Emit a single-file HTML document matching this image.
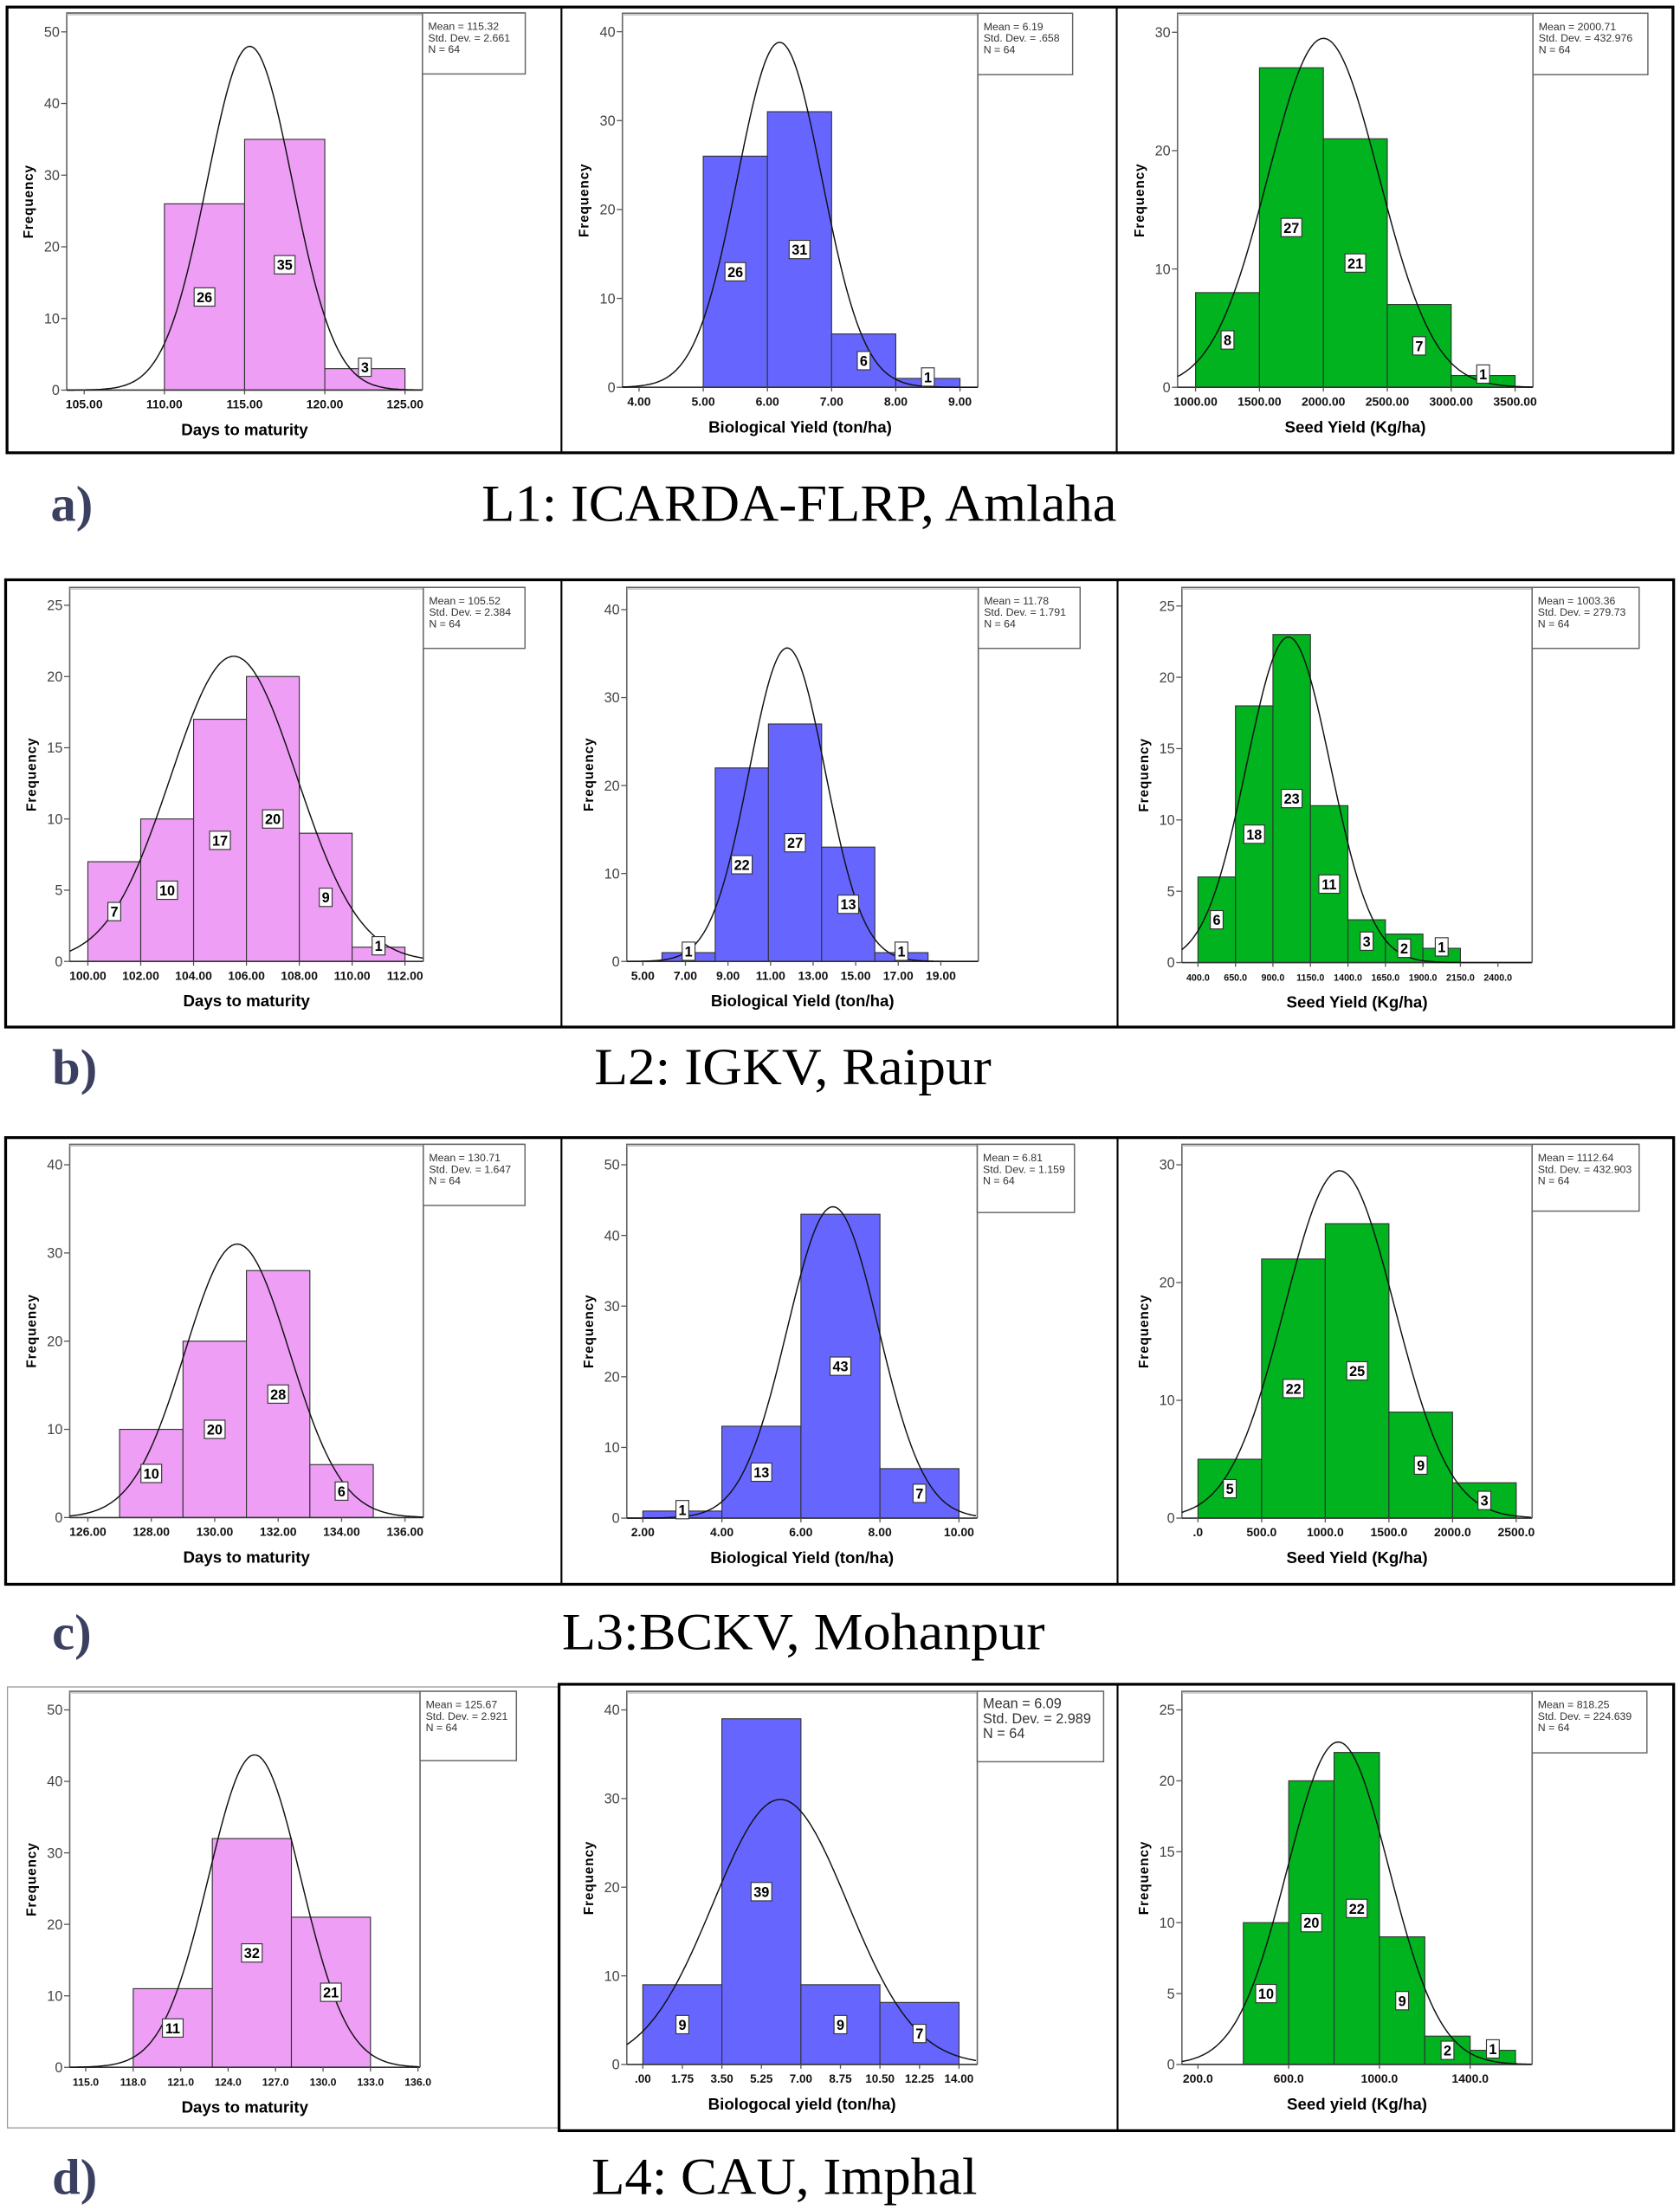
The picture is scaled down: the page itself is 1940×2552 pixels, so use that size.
<!DOCTYPE html>
<html><head><meta charset="utf-8"><style>
html,body{margin:0;padding:0;background:#fff;}
svg{display:block;}
</style></head><body>
<svg id="fig" xmlns="http://www.w3.org/2000/svg" width="1940" height="2552" viewBox="0 0 1193 1569.3">
<rect x="0" y="0" width="1193" height="1570" fill="#fff"/>
<g fill="none" stroke="#000">
<rect x="5" y="5" width="1183" height="316.5" stroke-width="2"/>
<line x1="398.7" y1="5" x2="398.7" y2="321.5" stroke-width="1.3"/>
<line x1="793" y1="5" x2="793" y2="321.5" stroke-width="1.3"/>
<rect x="4" y="411.7" width="1184.5" height="317.6" stroke-width="2"/>
<line x1="398.7" y1="411.7" x2="398.7" y2="729.3" stroke-width="1.3"/>
<line x1="793.6" y1="411.7" x2="793.6" y2="729.3" stroke-width="1.3"/>
<rect x="4" y="807.8" width="1184.5" height="317.2" stroke-width="2"/>
<line x1="398.7" y1="807.8" x2="398.7" y2="1125" stroke-width="1.3"/>
<line x1="793.6" y1="807.8" x2="793.6" y2="1125" stroke-width="1.3"/>
<rect x="5.3" y="1197.9" width="391.7" height="313.1" stroke="#999" stroke-width="0.8"/>
<rect x="397" y="1196" width="791.5" height="317" stroke-width="2"/>
<line x1="793.6" y1="1196" x2="793.6" y2="1513" stroke-width="1.3"/>
</g>
<g font-family="Liberation Serif, serif">
<text x="36" y="370" font-size="36" font-weight="bold" fill="#3c4060">a)</text>
<text x="342" y="370" font-size="37" textLength="451" lengthAdjust="spacingAndGlyphs" fill="#000">L1: ICARDA-FLRP, Amlaha</text>
<text x="37" y="770" font-size="36" font-weight="bold" fill="#3c4060">b)</text>
<text x="422" y="770" font-size="37" textLength="282" lengthAdjust="spacingAndGlyphs" fill="#000">L2: IGKV, Raipur</text>
<text x="37" y="1171" font-size="36" font-weight="bold" fill="#3c4060">c)</text>
<text x="399" y="1171" font-size="37" textLength="343" lengthAdjust="spacingAndGlyphs" fill="#000">L3:BCKV, Mohanpur</text>
<text x="37" y="1558" font-size="36" font-weight="bold" fill="#3c4060">d)</text>
<text x="420" y="1558" font-size="37" textLength="274" lengthAdjust="spacingAndGlyphs" fill="#000">L4: CAU, Imphal</text>
</g>
</svg>
<script>
// ---- data (one entry per histogram: a1,a2,a3,b1,b2,b3,c1,c2,c3,d1,d2,d3) ----
const chartIds = ["a1","a2","a3","b1","b2","b3","c1","c2","c3","d1","d2","d3"];
const binStarts = [110, 5, 1000, 100, 5.9, 400, 127, 2, 0, 118, 0, 400];
const binWidths = [5, 1, 500, 2, 2.5, 250, 2, 2, 500, 5, 3.5, 200];
const binCounts = [
  [26,35,3],
  [26,31,6,1],
  [8,27,21,7,1],
  [7,10,17,20,9,1],
  [1,22,27,13,1],
  [6,18,23,11,3,2,1],
  [10,20,28,6],
  [1,13,43,7],
  [5,22,25,9,3],
  [11,32,21],
  [9,39,9,7],
  [10,20,22,9,2,1]
];
const means = [115.32, 6.19, 2000.71, 105.52, 11.78, 1003.36, 130.71, 6.81, 1112.64, 125.67, 6.09, 818.25];
const stdDevs = [2.661, 0.658, 432.976, 2.384, 1.791, 279.73, 1.647, 1.159, 432.903, 2.921, 2.989, 224.639];
const sampleSizes = [64,64,64,64,64,64,64,64,64,64,64,64];
const meanLabels = ["115.32","6.19","2000.71","105.52","11.78","1003.36","130.71","6.81","1112.64","125.67","6.09","818.25"];
const sdLabels = ["2.661",".658","432.976","2.384","1.791","279.73","1.647","1.159","432.903","2.921","2.989","224.639"];
const xTickValues = [
  [105,110,115,120,125],
  [4,5,6,7,8,9],
  [1000,1500,2000,2500,3000,3500],
  [100,102,104,106,108,110,112],
  [5,7,9,11,13,15,17,19],
  [400,650,900,1150,1400,1650,1900,2150,2400],
  [126,128,130,132,134,136],
  [2,4,6,8,10],
  [0,500,1000,1500,2000,2500],
  [115,118,121,124,127,130,133,136],
  [0,1.75,3.5,5.25,7,8.75,10.5,12.25,14],
  [200,600,1000,1400]
];
const xTickLabels = [
  ["105.00","110.00","115.00","120.00","125.00"],
  ["4.00","5.00","6.00","7.00","8.00","9.00"],
  ["1000.00","1500.00","2000.00","2500.00","3000.00","3500.00"],
  ["100.00","102.00","104.00","106.00","108.00","110.00","112.00"],
  ["5.00","7.00","9.00","11.00","13.00","15.00","17.00","19.00"],
  ["400.0","650.0","900.0","1150.0","1400.0","1650.0","1900.0","2150.0","2400.0"],
  ["126.00","128.00","130.00","132.00","134.00","136.00"],
  ["2.00","4.00","6.00","8.00","10.00"],
  [".0","500.0","1000.0","1500.0","2000.0","2500.0"],
  ["115.0","118.0","121.0","124.0","127.0","130.0","133.0","136.0"],
  [".00","1.75","3.50","5.25","7.00","8.75","10.50","12.25","14.00"],
  ["200.0","600.0","1000.0","1400.0"]
];
const yTickValues = [
  [0,10,20,30,40,50],
  [0,10,20,30,40],
  [0,10,20,30],
  [0,5,10,15,20,25],
  [0,10,20,30,40],
  [0,5,10,15,20,25],
  [0,10,20,30,40],
  [0,10,20,30,40,50],
  [0,10,20,30],
  [0,10,20,30,40,50],
  [0,10,20,30,40],
  [0,5,10,15,20,25]
];
const xTitles = ["Days to maturity","Biological Yield (ton/ha)","Seed Yield (Kg/ha)",
  "Days to maturity","Biological Yield (ton/ha)","Seed Yield (Kg/ha)",
  "Days to maturity","Biological Yield (ton/ha)","Seed Yield (Kg/ha)",
  "Days to maturity","Biologocal yield (ton/ha)","Seed yield (Kg/ha)"];
const barColors = ["#ee9ef5","#6666ff","#00b31f"];

// ---- layout (pixel geometry, viewBox units) ----
const layout = [
  {L:47.4,R:300,LR:373,LB:52.5,T:9.2,B:277,yTopPix:22.6,xa:59.8,xb:287.6,fs:7.6,tf:8.6},
  {L:442,R:694.4,LR:761.7,LB:53,T:9.4,B:275,yTopPix:22.5,xa:453.8,xb:681.7,fs:7.6,tf:8.6},
  {L:836.2,R:1088.6,LR:1170.2,LB:53,T:9.4,B:275,yTopPix:22.9,xa:849,xb:1075.9,fs:7.6,tf:8.6},
  {L:49.5,R:300.6,LR:372.8,LB:460.4,T:417.1,B:682.7,yTopPix:429.8,xa:62.4,xb:287.6,fs:7.6,tf:8.6},
  {L:445.1,R:694.7,LR:767,LB:460.4,T:417.1,B:682.7,yTopPix:432.9,xa:456.5,xb:668.1,fs:7.6,tf:8.6},
  {L:839.3,R:1088,LR:1164,LB:460.4,T:417.1,B:683.5,yTopPix:430.3,xa:850.7,xb:1063.7,fs:7.6,tf:6.6},
  {L:49.5,R:300.6,LR:372.8,LB:856,T:812.6,B:1077.6,yTopPix:827.1,xa:62.4,xb:287.6,fs:7.6,tf:8.6},
  {L:445.1,R:694,LR:763,LB:861,T:812.6,B:1078,yTopPix:827.1,xa:456.5,xb:681,fs:7.6,tf:8.6},
  {L:839.3,R:1088,LR:1164,LB:860,T:812.6,B:1078,yTopPix:827.1,xa:850.7,xb:1076.7,fs:7.6,tf:8.6},
  {L:49.5,R:298.3,LR:366.7,LB:1250.2,T:1201,B:1468,yTopPix:1214.2,xa:60.9,xb:296.8,fs:7.6,tf:7.6},
  {L:445.1,R:694,LR:783.7,LB:1251,T:1201,B:1466,yTopPix:1214.2,xa:456.5,xb:681,fs:10,tf:8.3},
  {L:839.3,R:1088,LR:1169.5,LB:1244.7,T:1201,B:1466,yTopPix:1214.2,xa:850.7,xb:1044,fs:7.6,tf:8.6}
];

const NS = "http://www.w3.org/2000/svg";
const svg = document.getElementById("fig");
function mk(tag, attrs, parent){
  const e = document.createElementNS(NS, tag);
  for (const k in attrs) e.setAttribute(k, attrs[k]);
  parent.appendChild(e);
  return e;
}
const FONT = "Liberation Sans Narrow, Liberation Sans, Arial, sans-serif";

chartIds.forEach(function(id, i){
  const g0 = layout[i];
  const xv = xTickValues[i], yv = yTickValues[i];
  const x0 = xv[0], x1 = xv[xv.length-1];
  const yMax = yv[yv.length-1];
  const xScale = v => g0.xa + (v - x0) / (x1 - x0) * (g0.xb - g0.xa);
  const xInv = p => x0 + (p - g0.xa) / (g0.xb - g0.xa) * (x1 - x0);
  const yScale = v => g0.B - v / yMax * (g0.B - g0.yTopPix);

  const g = mk("g", {}, svg);
  
  

  const frame = mk("path", {d:`M${g0.L},${g0.B} L${g0.L},${g0.T} L${g0.LR},${g0.T} M${g0.R},${g0.T} L${g0.R},${g0.B}`, fill:"none", stroke:"#666", "stroke-width":1}, g);
  
  
  mk("line", {x1:g0.L, y1:g0.T+1.2, x2:g0.LR, y2:g0.T+1.2, stroke:"#bbb", "stroke-width":0.8}, g);

  const counts = binCounts[i];
  const color = barColors[i % 3];
  counts.forEach(function(c, k){
    const a = binStarts[i] + k * binWidths[i];
    const bx = xScale(a), bw = xScale(a + binWidths[i]) - bx;
    const by = yScale(c);
    const r = mk("rect", {x:bx, y:by, width:bw, height:g0.B - by, fill:color, stroke:"#333", "stroke-width":0.7}, g);
    
    
  });

  const xAxis = mk("line", {x1:g0.L, y1:g0.B, x2:g0.R, y2:g0.B, stroke:"#333", "stroke-width":1}, g);
  
  

  const n = sampleSizes[i], m = means[i], s = stdDevs[i], w = binWidths[i];
  const amp = n * w / (s * Math.sqrt(2 * Math.PI));
  let d = "";
  for (let p = g0.L; p <= g0.R + 0.01; p += 1){
    const v = xInv(p);
    const f = amp * Math.exp(-0.5 * Math.pow((v - m) / s, 2));
    const py = Math.max(g0.T, yScale(f));
    d += (d ? " L" : "M") + p.toFixed(1) + "," + py.toFixed(1);
  }
  const curve = mk("path", {d:d, fill:"none", stroke:"#111", "stroke-width":0.9}, g);
  
  

  counts.forEach(function(c, k){
    const a = binStarts[i] + k * binWidths[i];
    const cx = xScale(a + binWidths[i] / 2);
    let cy = yScale(c / 2);
    if (g0.B - yScale(c) < 16) cy = yScale(c) - 1;
    const txt = String(c);
    const bw = txt.length * 5.6 + 3.5;
    const lb = mk("g", {}, g);
    
    
    mk("rect", {x:cx - bw/2, y:cy - 6.5, width:bw, height:13, fill:"#fff", stroke:"#333", "stroke-width":0.7}, lb);
    const t = mk("text", {x:cx, y:cy + 3.7, "text-anchor":"middle", "font-family":FONT, "font-size":10, "font-weight":"bold", fill:"#000"}, lb);
    t.textContent = txt;
  });

  yv.forEach(function(v){
    const py = yScale(v);
    mk("line", {x1:g0.L - 4, y1:py, x2:g0.L, y2:py, stroke:"#555", "stroke-width":0.8}, g);
    const t = mk("text", {x:g0.L - 5, y:py + 3.5, "text-anchor":"end", "font-family":FONT, "font-size":10, fill:"#444"}, g);
    
    
    t.textContent = v;
  });

  xv.forEach(function(v, k){
    const px = xScale(v);
    mk("line", {x1:px, y1:g0.B, x2:px, y2:g0.B + 3, stroke:"#555", "stroke-width":0.8}, g);
    const t = mk("text", {x:px, y:g0.B + 13, "text-anchor":"middle", "font-family":FONT, "font-size":g0.tf, "font-weight":"bold", fill:"#111"}, g);
    
    
    t.textContent = xTickLabels[i][k];
  });

  const xt = mk("text", {x:(g0.L + g0.R)/2, y:g0.B + 32, "text-anchor":"middle", "font-family":"Liberation Sans, Arial, sans-serif", "font-size":11.5, "font-weight":"bold", fill:"#000"}, g);
  
  
  xt.textContent = xTitles[i];
  const yc = (g0.T + g0.B)/2, yx = g0.L - 24;
  const yt = mk("text", {x:yx, y:yc, transform:`rotate(-90 ${yx} ${yc})`, "text-anchor":"middle", "font-family":"Liberation Sans, Arial, sans-serif", "font-size":9.5, "font-weight":"bold", "letter-spacing":"0.5", fill:"#000"}, g);
  
  
  yt.textContent = "Frequency";

  const lg = mk("g", {}, g);
  
  
  mk("rect", {x:g0.R, y:g0.T, width:g0.LR - g0.R, height:g0.LB - g0.T, fill:"#fff", stroke:"#666", "stroke-width":0.9}, lg);
  const lines = ["Mean = " + meanLabels[i], "Std. Dev. = " + sdLabels[i], "N = " + sampleSizes[i]];
  lines.forEach(function(s2, k){
    const t = mk("text", {x:g0.R + 4, y:g0.T + 12 + k * (g0.fs + 0.6), "font-family":FONT, "font-size":g0.fs, fill:"#333"}, lg);
    t.textContent = s2;
  });
});
</script>
</body></html>
